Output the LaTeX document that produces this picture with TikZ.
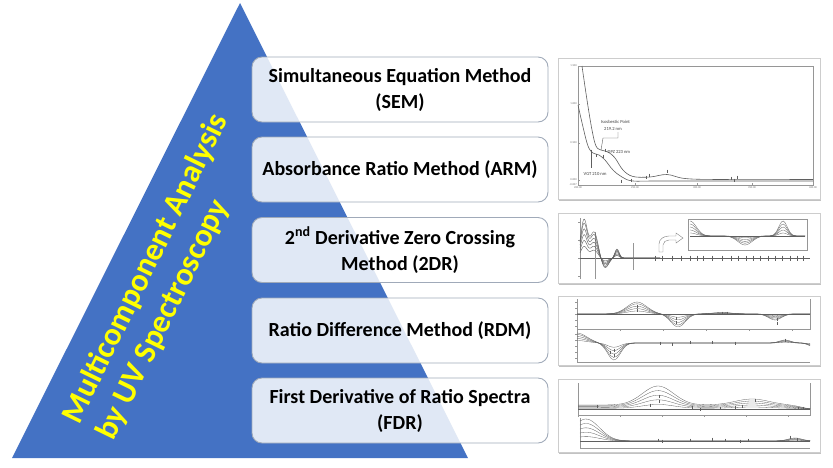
\documentclass[tikz,border=0pt]{standalone}
\usepackage{fontspec}
\setmainfont{Carlito}
\usetikzlibrary{shadows,arrows.meta}
\definecolor{triblue}{HTML}{4472C4}
\definecolor{boxline}{RGB}{160,170,185}
\definecolor{titleyellow}{HTML}{FFFF00}
\definecolor{specline}{RGB}{95,95,95}
\definecolor{axisline}{RGB}{150,150,150}
\definecolor{panelline}{RGB}{205,205,205}
\begin{document}
\begin{tikzpicture}[x=1pt,y=-1pt,
  methodbox/.style={draw=boxline, line width=0.9pt, rounded corners=10pt, fill=white,
    fill opacity=0.84, text opacity=1, minimum width=296pt, minimum height=65pt,
    align=center, font=\bfseries\fontsize{20}{26}\selectfont, inner sep=2pt},
  panel/.style={draw=panelline, line width=0.6pt, fill=white, minimum width=262pt,
    drop shadow={shadow xshift=1.2pt, shadow yshift=-1.6pt, opacity=0.4, fill=black!60}},
  spec/.style={draw=specline, line width=0.4pt},
  axisl/.style={draw=axisline, line width=0.35pt},
  ticklbl/.style={font=\fontsize{2.8}{3}\selectfont, text=black!55, inner sep=0.5pt},
  annot/.style={font=\fontsize{4.6}{5.5}\selectfont, text=black!75, inner sep=0.5pt},
  titletext/.style={text=titleyellow, font=\bfseries\fontsize{32}{38}\selectfont, align=left, inner sep=0pt}
]
\useasboundingbox (0,0) rectangle (833,467);

% pyramid
\fill[triblue] (240,3) -- (468,458) -- (12,458) -- cycle;
\node[titletext, rotate=64] (ttl) at (163,277) {Multicomponent Analysis\\by UV Spectroscopy};

% method boxes
\node[methodbox] (sem) at (400,89.5) {Simultaneous Equation Method\\(SEM)};
\node[methodbox] (arm) at (400,169.5) {Absorbance Ratio Method (ARM)};
\node[methodbox] (zdr) at (400,250) {2\textsuperscript{nd} Derivative Zero Crossing\\Method (2DR)};
\node[methodbox] (rdm) at (400,330.5) {Ratio Difference Method (RDM)};
\node[methodbox] (fdr) at (400,410.5) {First Derivative of Ratio Spectra\\(FDR)};

% panels
\node[panel, minimum height=141pt] (p1) at (689,128.5) {};
\node[panel, minimum height=70pt] (p2) at (689,248) {};
\node[panel, minimum height=69pt] (p3) at (689,330.5) {};
\node[panel, minimum height=73pt] (p4) at (689,415.5) {};

% ---- panel 1: zero-order spectra
\draw[axisl] (578,66) rectangle (813,185);
\foreach \yy/\lab in {66/1.500,104/1.000,143/0.500,180/0.000,185/-0.007}{
  \draw[axisl] (578,\yy) -- (580,\yy);
  \node[ticklbl, anchor=east] at (577.5,\yy) {\lab};
}
\foreach \xx/\lab in {578/200.00,635/250.00,697/300.00,752/350.00,813/400.00}{
  \draw[axisl] (\xx,185) -- (\xx,183);
  \node[ticklbl, anchor=north] at (\xx,186) {\lab};
}
\draw[spec, line width=0.6pt] plot[smooth, tension=0.6] coordinates {(582,66) (587,100) (592,130) (596,146) (601,150) (608,152) (615,158) (623,170) (633,176.5) (650,177) (667,174.5) (685,178.5) (720,179.5) (813,179.5)};
\draw[spec, line width=0.6pt] plot[smooth, tension=0.6] coordinates {(578,105) (583,127) (588,146) (593,153) (599,155) (605,160) (613,170) (622,177) (633,181) (660,181) (813,181)};
\foreach \mx/\my in {591/151,596/155,603/156,605/150,646/177,649/175,667/171,731/178,734/180,737/177,621/181,631/180}{
  \draw[spec, line width=0.5pt] (\mx,\my-1.5) -- (\mx,\my+1.5);
}
\draw[spec] (618,132) -- (618,138) -- (603,138) -- (601,150);
\draw[spec] (591,153) -- (591,168);
\node[annot] (iso1) at (615.5,122) {Isosbestic Point};
\node[annot] (iso2) at (613,129) {219.2 nm};
\node[annot, anchor=west] (dpz) at (607,152) {DPZ 223 nm};
\node[annot, anchor=west] (vgt) at (583,174) {VGT 210 nm};

% ---- panel 2: second derivative
\draw[axisl] (580,218) -- (580,279);
\foreach \yy in {222,240,258,276}{\draw[axisl] (578,\yy) -- (580,\yy);}
\draw[spec] (580,258) -- (810,258);
\draw[axisl] (595,232) -- (595,279);
\draw[axisl] (633,243) -- (633,270);
\foreach \k in {0.3,0.45,0.6,0.75,0.9,1}{
  \draw[spec] plot[domain=580:660, samples=90, smooth] (\x,{258 - \k*(38*exp(-((\x-584)/4.5)^2) + 26*exp(-((\x-594)/5.5)^2) - 10*exp(-((\x-605)/5)^2) + 9*exp(-((\x-617)/3)^2))});
}
\foreach \m in {655,662,672,681,690,697,703,712,722,731,738,746,753,760,768,775,782,790,797,803}{
  \draw[spec, line width=0.6pt] (\m,255.5) -- (\m,260.5);
}
\draw[axisl, fill=white] (688,219) rectangle (807,250);
\draw[spec] (690,236) -- (805,236);
\foreach \k in {0.2,0.4,0.6,0.8,1}{
  \draw[spec, line width=0.3pt] plot[domain=690:805, samples=70, smooth] (\x,{236 - \k*15*exp(-((\x-690)/9)^2) + \k*9*exp(-((\x-745)/10)^2) - \k*15*exp(-((\x-783)/6)^2)});
}
\draw[black!50, line width=0.4pt, fill=white] (659,252) -- (659,244) to[out=90,in=180] (669,236) -- (676,236) -- (676,233) -- (683,238) -- (676,243) -- (676,240) -- (669,240) to[out=180,in=90] (663,245) -- (663,252) -- cycle;

% ---- panel 3: ratio difference
\draw[axisl] (577,299) -- (577,329) -- (810,329) -- (810,299);
\foreach \xx in {577,620,663,706,749,792}{\draw[axisl] (\xx,329) -- (\xx,331);}
\foreach \yy in {302,308,314,320,326}{\draw[axisl] (575,\yy) -- (577,\yy);}
\draw[spec] (577,314) -- (810,314);
\foreach \k in {0.25,0.45,0.65,0.85,1}{
  \draw[spec, line width=0.3pt] plot[domain=577:810, samples=90, smooth] (\x,{314 - \k*(12*exp(-((\x-637)/14)^2) - 13*exp(-((\x-678)/10)^2) + 1.5*exp(-((\x-722)/14)^2) - 6*exp(-((\x-775)/9)^2))});
}
\draw[axisl] (577,331) -- (577,362) -- (810,362);
\foreach \yy in {334,340,346,352,358}{\draw[axisl] (575,\yy) -- (577,\yy);}
\foreach \k in {0.25,0.45,0.65,0.85,1}{
  \draw[spec, line width=0.3pt] plot[domain=577:810, samples=90, smooth] (\x,{343 - \k*(10*exp(-((\x-577)/14)^2) - 17*exp(-((\x-614)/9)^2) + 3*exp(-((\x-785)/8)^2) - 3*exp(-((\x-812)/6)^2))});
}
\foreach \mx/\my in {637/306,637/310,676/322,676/318,722/313,727/313,777/319,777/323}{
  \draw[spec, line width=0.5pt] (\mx,\my-1.5) -- (\mx,\my+1.5);
}
\foreach \mx/\my in {610/352,614/355,614/350,660/343,672/344,690/342,712/342,735/343,785/340}{
  \draw[spec, line width=0.5pt] (\mx,\my-1.5) -- (\mx,\my+1.5);
}

% ---- panel 4: first derivative of ratio spectra
\draw[axisl] (578,383) -- (578,415) -- (810,415) -- (810,383);
\foreach \xx in {578,620,662,704,746,788}{\draw[axisl] (\xx,415) -- (\xx,417);}
\draw[spec] (578,409) -- (810,409);
\foreach \k in {0.2,0.4,0.6,0.8,1}{
  \draw[spec, line width=0.3pt] plot[domain=578:810, samples=90, smooth] (\x,{409 - \k*(4 + 19*exp(-((\x-658)/22)^2) + 6*exp(-((\x-752)/24)^2))*(1-exp(-((\x-814)/16)^2))});
}
\draw[axisl] (580,418) -- (580,448) -- (810,448);
\draw[spec] (580,441) -- (810,441);
\foreach \k in {0.2,0.4,0.6,0.8,1}{
  \draw[spec, line width=0.3pt] plot[domain=580:810, samples=90, smooth] (\x,{441 - \k*(22*exp(-((\x-586)/19)^2) + 3*exp(-((\x-795)/10)^2))});
}
\foreach \mx/\my in {597/406,659/396,659/401,650/405,692/407,700/409,720/408,735/407,742/406,755/400,798/408,803/408}{
  \draw[spec, line width=0.5pt] (\mx,\my-1.5) -- (\mx,\my+1.5);
}
\foreach \mx/\my in {658/440,662/441,690/440,712/439,725/440,740/441,748/440,790/437,797/439}{
  \draw[spec, line width=0.5pt] (\mx,\my-1.5) -- (\mx,\my+1.5);
}
\end{tikzpicture}
\end{document}
